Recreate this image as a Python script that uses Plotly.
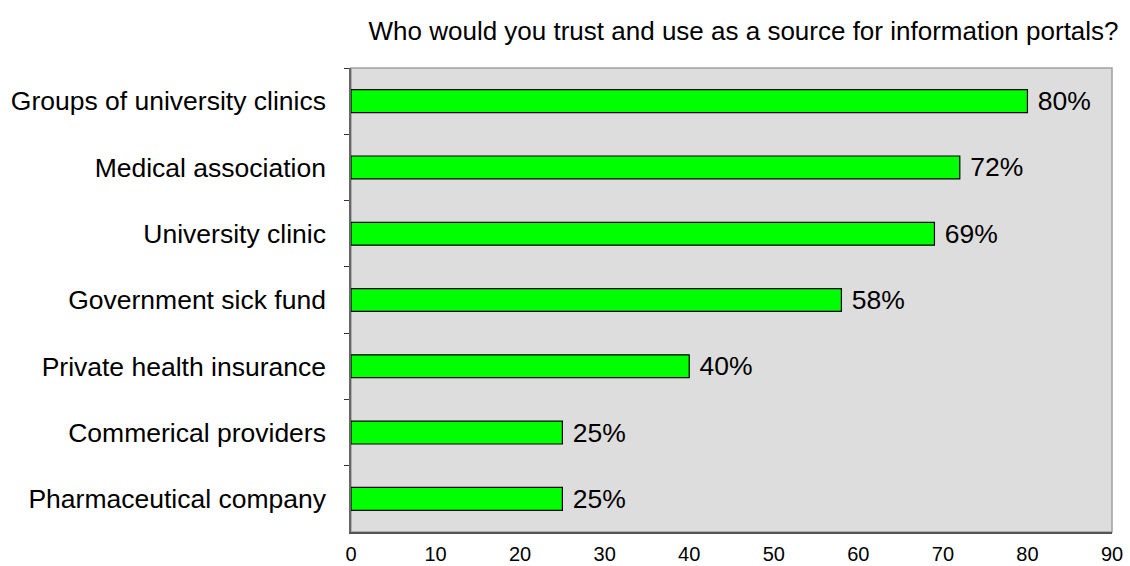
import plotly.graph_objects as go

categories = ["Groups of university clinics", "Medical association", "University clinic",
              "Government sick fund", "Private health insurance", "Commerical providers",
              "Pharmaceutical company"]
values = [80, 72, 69, 58, 40, 25, 25]
labels = ["80%", "72%", "69%", "58%", "40%", "25%", "25%"]
x_ticks = [0, 10, 20, 30, 40, 50, 60, 70, 80, 90]
title = "Who would you trust and use as a source for information portals?"

FONT = "Liberation Sans, Arial, sans-serif"

fig = go.Figure(go.Bar(
    x=values, y=categories, orientation="h",
    marker=dict(color="#00ff00", line=dict(color="#000000", width=1.2)),
    width=0.345,
    text=[" " + t for t in labels], textposition="outside", cliponaxis=False,
    constraintext="none",
    textfont=dict(family=FONT, size=26.5, color="#000000"),
))

fig.update_layout(
    width=1130, height=566,
    margin=dict(l=351, r=18, t=68, b=34, autoexpand=False),
    paper_bgcolor="#ffffff", plot_bgcolor="#dddddd",
    showlegend=False,
    title=dict(text=title, x=0.658, xanchor="center", y=0.945, yanchor="middle",
               font=dict(family=FONT, size=26, color="#000000")),
    font=dict(family=FONT, color="#000000"),
    shapes=[dict(type="rect", xref="paper", yref="paper", x0=0, x1=1, y0=0, y1=1,
                 line=dict(color="#a0a0a0", width=1.5), layer="below")],
)
fig.update_xaxes(range=[0, 90], tickvals=x_ticks, showgrid=False, zeroline=False,
                 showline=True, linecolor="#555555", linewidth=1.5, ticks="",
                 automargin=False,
                 tickfont=dict(family=FONT, size=20), ticklabelstandoff=3)
fig.update_yaxes(autorange="reversed", categoryorder="array", categoryarray=categories,
                 showgrid=False, zeroline=False, showline=True, linecolor="#666666",
                 linewidth=1.5, ticks="outside", tickson="boundaries", ticklen=5,
                 automargin=False,
                 tickcolor="#333333", tickwidth=1, tickfont=dict(family=FONT, size=26.5),
                 ticklabelstandoff=18)

fig.write_html("out.html")
